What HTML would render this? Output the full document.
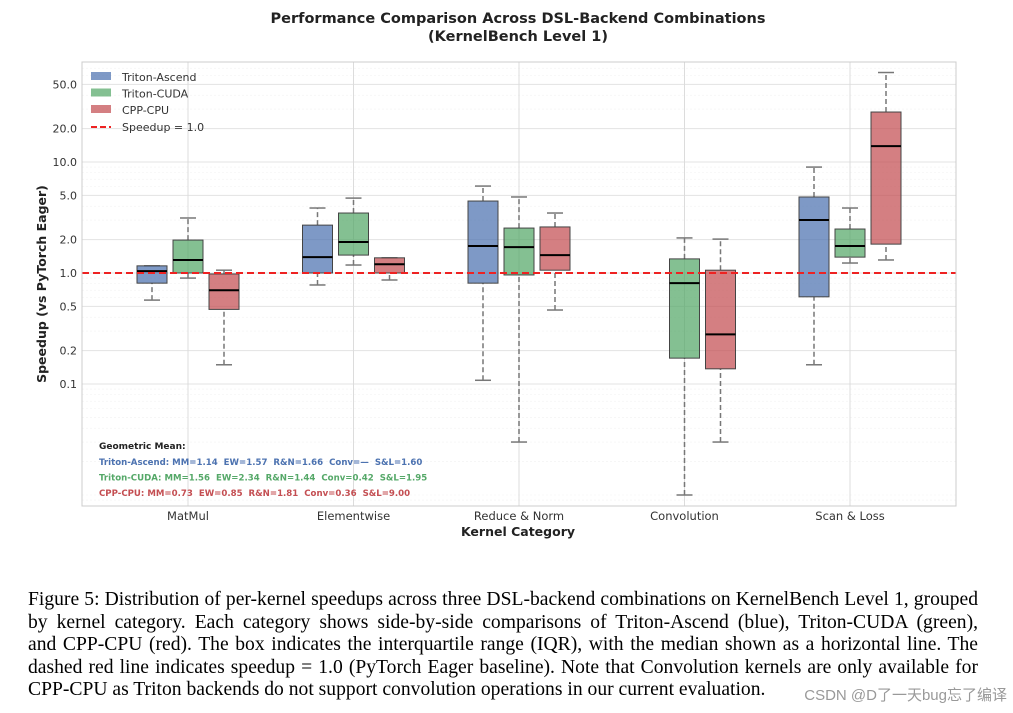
<!DOCTYPE html>
<html><head><meta charset="utf-8"><style>
body{margin:0;background:#fff;width:1013px;height:713px;overflow:hidden;position:relative;font-family:"DejaVu Sans","Liberation Sans",sans-serif}
#cap{position:absolute;left:28px;top:589px;width:950px;font-family:"Liberation Serif",serif;font-size:19.6px;line-height:22.6px;color:#000}
#cap div{white-space:nowrap}
#cap .j{text-align:justify;text-align-last:justify}
#wm{position:absolute;right:6px;top:684px;font-family:"Liberation Sans","Noto Sans CJK SC",sans-serif;font-size:15px;color:#999}
</style></head><body>
<svg id="chart" width="1013" height="580" style="position:absolute;left:0;top:0" font-family="DejaVu Sans, Liberation Sans, sans-serif">
<text x="518" y="23" text-anchor="middle" font-size="14.5" font-weight="bold" fill="#222">Performance Comparison Across DSL-Backend Combinations</text>
<text x="518" y="41" text-anchor="middle" font-size="14.5" font-weight="bold" fill="#222">(KernelBench Level 1)</text>
<g id="grid"></g><g id="marks"></g><g id="axes"></g>
</svg>
<div id="cap">
<div class="j">Figure 5: Distribution of per-kernel speedups across three DSL-backend combinations on KernelBench Level 1, grouped</div>
<div class="j">by kernel category. Each category shows side-by-side comparisons of Triton-Ascend (blue), Triton-CUDA (green),</div>
<div class="j">and CPP-CPU (red). The box indicates the interquartile range (IQR), with the median shown as a horizontal line. The</div>
<div class="j">dashed red line indicates speedup = 1.0 (PyTorch Eager baseline). Note that Convolution kernels are only available for</div>
<div>CPP-CPU as Triton backends do not support convolution operations in our current evaluation.</div>
</div>
<div id="wm">CSDN @D了一天bug忘了编译</div>
<script>
const categories=["MatMul","Elementwise","Reduce & Norm","Convolution","Scan & Loss"];
const series=["Triton-Ascend","Triton-CUDA","CPP-CPU"];
const colors=["#4c72b0","#55a868","#c44e52"];
// [whiskerLow, q1, median, q3, whiskerHigh] per category, null if unavailable
const ascend=[[0.57,0.81,1.04,1.16,1.16],[0.78,1.0,1.39,2.7,3.85],[0.108,0.81,1.75,4.45,6.07],null,[0.149,0.61,3.0,4.84,9.0]];
const cuda=[[0.9,1.0,1.31,1.98,3.13],[1.18,1.45,1.9,3.47,4.73],[0.03,0.96,1.71,2.54,4.84],[0.01,0.171,0.81,1.34,2.07],[1.23,1.39,1.75,2.49,3.85]];
const cpu=[[0.149,0.47,0.70,0.98,1.06],[0.865,1.0,1.2,1.37,1.37],[0.464,1.06,1.45,2.6,3.47],[0.03,0.137,0.28,1.06,2.02],[1.31,1.82,13.9,28.2,64]];
const yTicks=[0.1,0.2,0.5,1,2,5,10,20,50];
const yTickLabels=["0.1","0.2","0.5","1.0","2.0","5.0","10.0","20.0","50.0"];
const geoLines=["Triton-Ascend: MM=1.14  EW=1.57  R&N=1.66  Conv=—  S&L=1.60","Triton-CUDA: MM=1.56  EW=2.34  R&N=1.44  Conv=0.42  S&L=1.95","CPP-CPU: MM=0.73  EW=0.85  R&N=1.81  Conv=0.36  S&L=9.00"];

const L=82,R=956,T=62,B=506;
const y=v=>273-111*Math.log10(v);
const x=i=>188+i*165.5;
const NS="http://www.w3.org/2000/svg";
function mk(p,tag,a){const e=document.createElementNS(NS,tag);for(const k in a)e.setAttribute(k,a[k]);p.appendChild(e);return e;}
const grid=document.getElementById('grid'),marks=document.getElementById('marks'),axes=document.getElementById('axes');
mk(grid,'rect',{x:L,y:T,width:R-L,height:B-T,fill:'#fff',stroke:'none'});
for(let d=-3;d<2;d++)for(let m=1;m<10;m++){const v=m*Math.pow(10,d),yy=y(v);if(yy<T||yy>B)continue;
 const gl=mk(grid,'line',{x1:L,x2:R,y1:yy,y2:yy,stroke:'#f2f2f2','stroke-width':0.6,'stroke-dasharray':'2,2'});
 }
yTicks.forEach((v,i)=>{const yy=y(v);
 const gl=mk(grid,'line',{x1:L,x2:R,y1:yy,y2:yy,stroke:'#e3e3e3','stroke-width':1});
 
 const t=mk(axes,'text',{x:L-5,y:yy+4,'text-anchor':'end','font-size':11,fill:'#333'});t.textContent=yTickLabels[i];
 });
categories.forEach((c,i)=>{const gl=mk(grid,'line',{x1:x(i),x2:x(i),y1:T,y2:B,stroke:'#dcdcdc','stroke-width':1});
 
 const t=mk(axes,'text',{x:x(i),y:520,'text-anchor':'middle','font-size':11.5,fill:'#333'});t.textContent=c;
 });
mk(axes,'rect',{x:L,y:T,width:R-L,height:B-T,fill:'none',stroke:'#ccc','stroke-width':1});
const xt=mk(axes,'text',{x:518,y:536,'text-anchor':'middle','font-size':12.5,'font-weight':'bold',fill:'#222'});xt.textContent='Kernel Category';

const yt=mk(axes,'text',{x:0,y:0,transform:'translate(46,284) rotate(-90)','text-anchor':'middle','font-size':12.5,'font-weight':'bold',fill:'#222'});yt.textContent='Speedup (vs PyTorch Eager)';

[ascend,cuda,cpu].forEach((data,s)=>{data.forEach((d,i)=>{if(!d)return;
 const cx=x(i)+(s-1)*36,w=30,g=mk(marks,'g',{});
 
 mk(g,'line',{x1:cx,x2:cx,y1:y(d[0]),y2:y(d[1]),stroke:'#777','stroke-width':1.5,'stroke-dasharray':'5,3'});
 mk(g,'line',{x1:cx,x2:cx,y1:y(d[3]),y2:y(d[4]),stroke:'#777','stroke-width':1.5,'stroke-dasharray':'5,3'});
 mk(g,'line',{x1:cx-8,x2:cx+8,y1:y(d[0]),y2:y(d[0]),stroke:'#777','stroke-width':1.5});
 mk(g,'line',{x1:cx-8,x2:cx+8,y1:y(d[4]),y2:y(d[4]),stroke:'#777','stroke-width':1.5});
 mk(g,'rect',{x:cx-w/2,y:y(d[3]),width:w,height:y(d[1])-y(d[3]),fill:colors[s],'fill-opacity':0.72,stroke:'#444','stroke-width':1});
 mk(g,'line',{x1:cx-w/2,x2:cx+w/2,y1:y(d[2]),y2:y(d[2]),stroke:'#000','stroke-width':2});});});
const ref=mk(marks,'line',{x1:L,x2:R,y1:y(1),y2:y(1),stroke:'#ee2222','stroke-width':2,'stroke-dasharray':'7,4'});

const lg=mk(axes,'g',{});
series.forEach((s,i)=>{const e=mk(lg,'g',{});
 mk(e,'rect',{x:91,y:72+i*16.5,width:20,height:8,fill:colors[i],'fill-opacity':0.72});
 const t=mk(e,'text',{x:122,y:81+i*16.5,'font-size':11,fill:'#333'});t.textContent=s;});
const le=mk(lg,'g',{});
mk(le,'line',{x1:91,x2:111,y1:127,y2:127,stroke:'#ee2222','stroke-width':2,'stroke-dasharray':'6,3'});
const lt=mk(le,'text',{x:122,y:131,'font-size':11,fill:'#333'});lt.textContent='Speedup = 1.0';
const ga=mk(axes,'g',{});
const gh=mk(ga,'text',{x:99,y:449,'font-size':9,'font-weight':'bold',fill:'#222'});gh.textContent='Geometric Mean:';
geoLines.forEach((l,i)=>{const t=mk(ga,'text',{x:99,y:465+i*15.5,'font-size':8.6,'font-weight':'bold',fill:colors[i],style:'white-space:pre'});t.textContent=l;});
</script>
</body></html>
